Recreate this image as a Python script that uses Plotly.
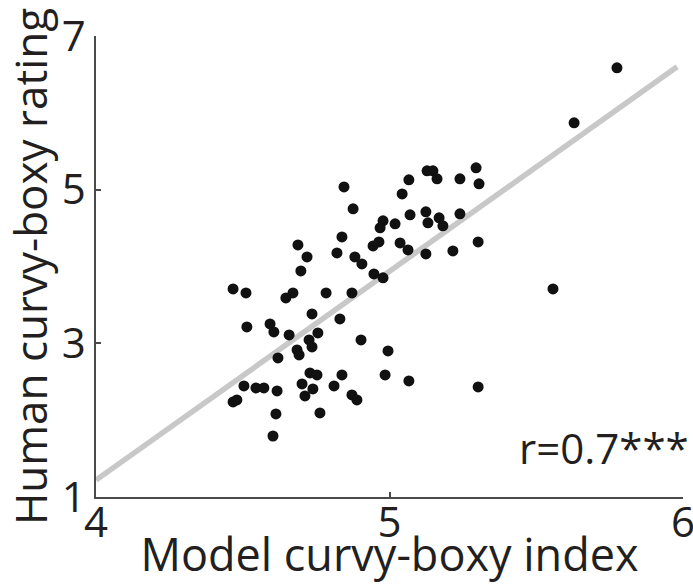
import plotly.graph_objects as go

# Model curvy-boxy index (x) and human curvy-boxy rating (y) per item
model_index = [
    5.295, 5.240, 5.305, 5.128, 5.148, 5.162, 5.066, 5.043, 4.876, 5.070,
    5.124, 5.131, 5.169, 5.182, 5.240, 4.978, 4.968, 5.019, 4.964, 4.944,
    5.036, 5.063, 5.124, 5.216, 5.302, 4.882, 4.906, 4.947, 4.978, 4.872,
    4.845, 4.838, 4.821, 4.688, 4.719, 4.698, 4.467, 4.511, 4.671, 4.647,
    4.784, 4.736, 4.831, 4.514, 4.593, 4.606, 4.658, 4.756, 4.726, 4.736,
    4.903, 4.685, 4.692, 4.620, 4.729, 4.753, 4.838, 4.504, 4.545, 4.572,
    4.617, 4.702, 4.739, 4.712, 4.811, 4.872, 4.889, 4.467, 4.480, 4.613,
    4.763, 4.603, 4.995, 4.985, 5.066, 5.302, 5.557, 5.629, 5.775,
]
human_rating = [
    5.284, 5.141, 5.076, 5.245, 5.245, 5.141, 5.128, 4.945, 4.750, 4.672,
    4.711, 4.568, 4.633, 4.529, 4.685, 4.594, 4.503, 4.555, 4.320, 4.268,
    4.307, 4.216, 4.164, 4.203, 4.320, 4.125, 4.034, 3.904, 3.852, 3.656,
    5.036, 4.385, 4.177, 4.281, 4.125, 3.943, 3.708, 3.656, 3.656, 3.591,
    3.656, 3.383, 3.318, 3.214, 3.253, 3.148, 3.109, 3.135, 3.044, 2.953,
    3.044, 2.914, 2.849, 2.810, 2.615, 2.589, 2.589, 2.445, 2.419, 2.419,
    2.380, 2.471, 2.406, 2.315, 2.445, 2.328, 2.263, 2.237, 2.263, 2.081,
    2.094, 1.794, 2.901, 2.589, 2.510, 2.432, 3.708, 5.870, 6.586,
]

# Least-squares fit line end points
fit_x = [4.0, 5.98]
fit_y = [1.22, 6.60]

x_ticks = [4, 5, 6]
y_ticks = [1, 3, 5, 7]
corr_label = "r=0.7***"

FONT = "Open Sans"
TEXT = "#231f20"
AXIS = "#4a4a4a"

fig = go.Figure()

fig.add_trace(go.Scatter(
    x=fit_x, y=fit_y, mode="lines",
    line=dict(color="#c8c8c8", width=5.5),
    hoverinfo="skip", showlegend=False,
))

fig.add_trace(go.Scatter(
    x=model_index, y=human_rating, mode="markers",
    marker=dict(size=11, color="#111111", line=dict(width=0)),
    cliponaxis=False, showlegend=False,
))

fig.add_annotation(
    text=corr_label, xref="paper", yref="y", x=1.013, y=1.64,
    xanchor="right", yanchor="middle", showarrow=False,
    font=dict(family=FONT, size=42, color=TEXT),
)

axis_common = dict(
    showline=True, linecolor=AXIS, linewidth=1.6,
    ticks="inside", ticklen=5, tickwidth=1.6, tickcolor=AXIS,
    showgrid=False, zeroline=False, automargin=False,
    tickfont=dict(family=FONT, size=42, color=TEXT),
    ticklabeloverflow="allow",
)

fig.update_xaxes(
    range=[4, 6], tickvals=x_ticks, ticktext=[str(v) for v in x_ticks],
    ticklabelstandoff=-12,
    title=dict(text="Model curvy-boxy index", standoff=16,
               font=dict(family=FONT, size=45, color=TEXT)),
    **axis_common,
)
fig.update_yaxes(
    range=[1, 7], tickvals=y_ticks, ticktext=[str(v) for v in y_ticks],
    title=dict(text="Human curvy-boxy rating", standoff=0,
               font=dict(family=FONT, size=44, color=TEXT)),
    **axis_common,
)

fig.update_layout(
    width=693, height=584,
    margin=dict(l=96, r=10, t=36, b=87),
    paper_bgcolor="white", plot_bgcolor="white",
    showlegend=False,
)

fig.write_html("out.html")
